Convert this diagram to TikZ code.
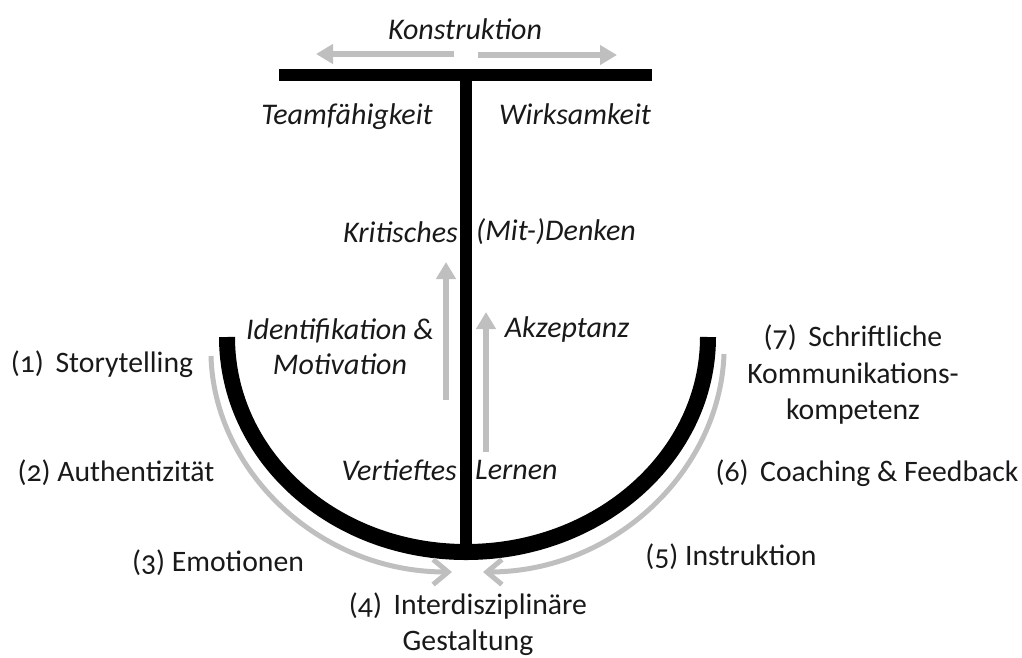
\documentclass[tikz,border=0pt]{standalone}
\usepackage{fontspec}
\setmainfont[Numbers=OldStyle]{Carlito}
\usetikzlibrary{arrows.meta}
\definecolor{arrowgrey}{HTML}{BFBFBF}
\tikzset{
  beam/.style={line width=12pt,black},
  bowl/.style={line width=16pt,black},
  flow/.style={line width=5.5pt,arrowgrey,-{Triangle[length=17pt,width=19pt]}},
  sweep/.style={line width=5pt,arrowgrey,-{Straight Barb[length=15pt,width=25pt,line width=5pt]}},
  lab/.style={font=\fontsize{29.7}{36.5}\selectfont,align=center,inner sep=0pt,text=black!90},
  ilab/.style={lab,font=\fontsize{30}{35}\selectfont\itshape},
}
\begin{document}
\begin{tikzpicture}[x=1pt,y=-1pt]
\useasboundingbox (0,0) rectangle (1022,657);
\coordinate (barL) at (279,75);
\coordinate (barR) at (652,75);
\coordinate (top) at (466,75);
\coordinate (bot) at (466,552);
\coordinate (bowlL) at (227,337);
\coordinate (bowlR) at (708,337);
\coordinate (c1) at (454,54); \coordinate (c1e) at (316,54);
\coordinate (c2) at (478,55); \coordinate (c2e) at (617,55);
\coordinate (u1) at (446,400); \coordinate (u1e) at (446,262);
\coordinate (u2) at (486,452); \coordinate (u2e) at (486,312);
\coordinate (sL) at (211,356); \coordinate (sLe) at (452,572);
\coordinate (sR) at (724,354); \coordinate (sRe) at (483,572);

\draw[beam] (barL) -- (barR);
\draw[beam] (top) -- (bot);
\draw[bowl] (bowlL) .. controls (227,456) and (333,552) .. (bot) .. controls (599,552) and (708,456) .. (bowlR);
\draw[flow] (c1) -- (c1e);
\draw[flow] (c2) -- (c2e);
\draw[flow] (u1) -- (u1e);
\draw[flow] (u2) -- (u2e);
\draw[sweep] (sL) .. controls (214,470) and (318,572) .. (sLe);
\draw[sweep] (sR) .. controls (720,470) and (615,572) .. (sRe);

\node[ilab] (n1) at (465,29) {Konstruktion};
\node[ilab] (n2) at (347,117) {Teamfähigkeit};
\node[ilab] (n3) at (575,114) {Wirksamkeit};
\node[ilab,anchor=east] (n4) at (458,232) {Kritisches};
\node[ilab,anchor=west] (n5) at (476,232) {(Mit-)Denken};
\node[ilab] (n6) at (340,346.5) {Identifikation \&\\Motivation};
\node[ilab] (n7) at (567,329) {Akzeptanz};
\node[ilab,anchor=east] (n8) at (457,470) {Vertieftes};
\node[ilab,anchor=west] (n9) at (475,470) {Lernen};
\node[lab] (m1) at (102,364) {(1)\, Storytelling};
\node[lab] (m2) at (116,473) {(2) Authentizität};
\node[lab] (m3) at (218,563) {(3) Emotionen};
\node[lab] (m4) at (468,624) {(4)\, Interdisziplinäre\\Gestaltung};
\node[lab] (m5) at (731,557) {(5) Instruktion};
\node[lab] (m6) at (867,473) {(6)\, Coaching \& Feedback};
\node[lab] (m7) at (853,375) {(7)\, Schriftliche\\Kommunikations-\\kompetenz};
\end{tikzpicture}
\end{document}
